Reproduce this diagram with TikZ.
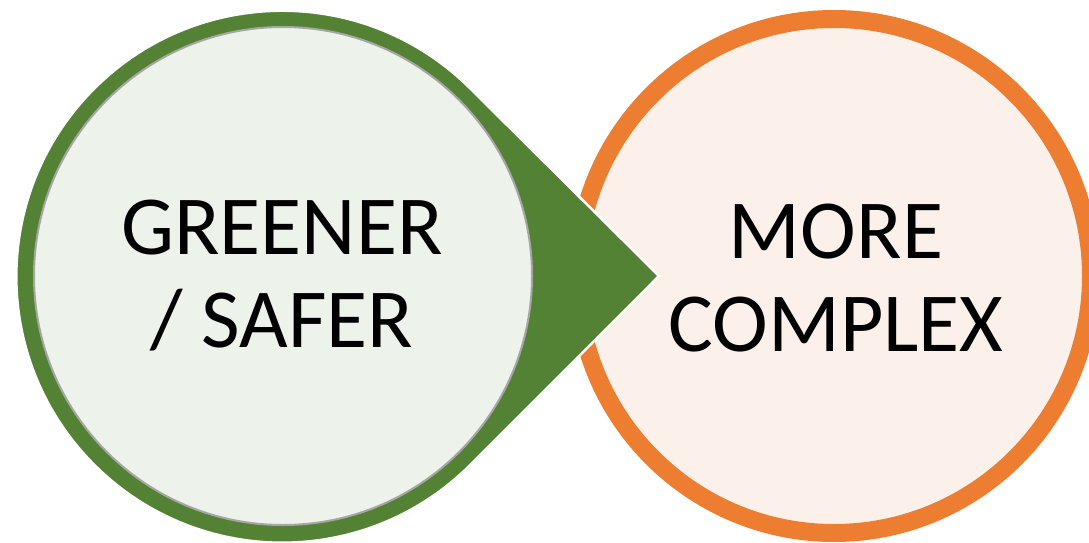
\documentclass[tikz,border=0pt]{standalone}
\usepackage{fontspec}
\setmainfont{Carlito}
\definecolor{grn}{HTML}{548235}
\definecolor{grnfill}{HTML}{EDF2EA}
\definecolor{org}{HTML}{ED7D31}
\definecolor{orgfill}{HTML}{FBF0EA}
\definecolor{rimgray}{HTML}{A6A6A6}
\tikzset{
  orgring/.style={draw=org, line width=18pt, fill=orgfill},
  greenshape/.style={fill=grn, draw=white, line width=2.5pt, line join=miter},
  innergreen/.style={fill=grnfill, draw=rimgray, line width=2pt},
  bigtext/.style={align=center, font=\fontsize{84}{93}\selectfont, text=black, inner sep=0pt}
}
\begin{document}
\begin{tikzpicture}[x=1pt,y=1pt]
\useasboundingbox (0,0) rectangle (1089,542);
\fill[white] (0,0) rectangle (1089,542);
\begin{scope}
\clip (0,0) rectangle (1089,542);
% orange circle
\path[orgring] (834,266) circle[radius=257];
% green teardrop
\path[greenshape] (659,266) -- (469.77,454) arc[start angle=45.19, end angle=314.81, radius=266] -- cycle;
% inner light circle
\path[innergreen] (283,266) circle[radius=249];
\end{scope}
\node[bigtext] (left) at (282,266) {GREENER\\/ SAFER};
\node[bigtext] (right) at (836,264) {MORE\\COMPLEX};
\end{tikzpicture}
\end{document}
